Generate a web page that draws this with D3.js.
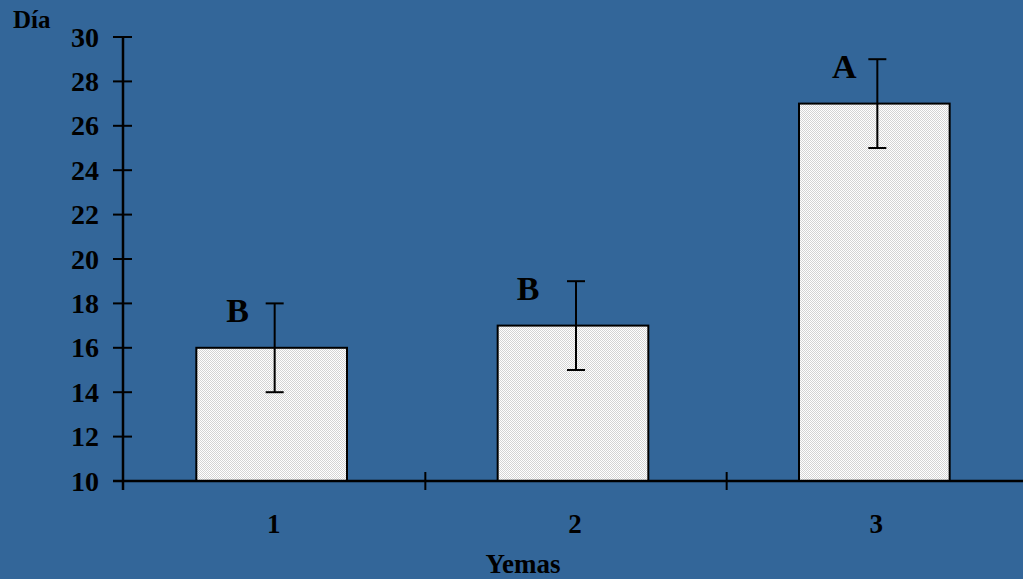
<!DOCTYPE html>
<html>
<head>
<meta charset="utf-8">
<style>
  body { margin: 0; background: #336699; }
  svg { display: block; }
  text { font-family: "Liberation Serif", "Times New Roman", serif; font-weight: bold; fill: #000; }
</style>
</head>
<body>
<svg width="1023" height="579"></svg>
<script src="https://d3js.org/d3.v7.min.js"></script>
<script>

var categories = ["1", "2", "3"];
var means = [16, 17, 27];
var errors = [2, 2, 2];
var letters = ["B", "B", "A"];
var yTicks = [10, 12, 14, 16, 18, 20, 22, 24, 26, 28, 30];

// horizontal nudge of each letter, left of its error bar
var letterDx = [-37, -48, -33];

var svg = d3.select("svg"),
    margin = {top: 37, right: -4, bottom: 98, left: 123},
    width = 1023 - margin.left - margin.right,
    height = 579 - margin.top - margin.bottom,
    g = svg.append("g").attr("transform", "translate(" + margin.left + "," + margin.top + ")");

svg.insert("rect", ":first-child")
    .attr("width", 1023).attr("height", 579).attr("fill", "#336699");

// checker fill for the bars
var defs = svg.append("defs");
var pat = defs.append("pattern")
    .attr("id", "dots")
    .attr("patternUnits", "userSpaceOnUse")
    .attr("width", 2).attr("height", 2);
pat.append("rect").attr("width", 2).attr("height", 2).attr("fill", "#ffffff");
pat.append("rect").attr("width", 1).attr("height", 1).attr("fill", "#d4d4d4");
pat.append("rect").attr("x", 1).attr("y", 1).attr("width", 1).attr("height", 1).attr("fill", "#d4d4d4");

var x = d3.scaleBand()
    .domain(categories)
    .range([0, width])
    .paddingInner(0.5)
    .paddingOuter(0.25);

var xb = d3.scaleBand().domain(categories).range([0, width]);

var y = d3.scaleLinear()
    .domain([10, 30])
    .range([height, 0]);

// bars
g.selectAll(".bar")
    .data(means)
  .enter().append("rect")
    .attr("class", "bar")
    .attr("x", function(d, i) { return x(categories[i]) - 2; })
    .attr("y", function(d) { return y(d); })
    .attr("width", x.bandwidth())
    .attr("height", function(d) { return height - y(d); })
    .attr("fill", "url(#dots)")
    .attr("stroke", "#000")
    .attr("stroke-width", 2);

// error bars
var eb = g.selectAll(".err")
    .data(means)
  .enter().append("g")
    .attr("class", "err")
    .attr("transform", function(d, i) { return "translate(" + (xb(categories[i]) + xb.bandwidth() / 2 + 1) + ",0)"; });

eb.append("line")
    .attr("y1", function(d, i) { return y(d - errors[i]); })
    .attr("y2", function(d, i) { return y(d + errors[i]); })
    .attr("stroke", "#000").attr("stroke-width", 2);
eb.append("line")
    .attr("x1", -9).attr("x2", 9)
    .attr("y1", function(d, i) { return y(d + errors[i]); })
    .attr("y2", function(d, i) { return y(d + errors[i]); })
    .attr("stroke", "#000").attr("stroke-width", 2);
eb.append("line")
    .attr("x1", -9).attr("x2", 9)
    .attr("y1", function(d, i) { return y(d - errors[i]); })
    .attr("y2", function(d, i) { return y(d - errors[i]); })
    .attr("stroke", "#000").attr("stroke-width", 2);

eb.append("text")
    .attr("x", function(d, i) { return letterDx[i]; })
    .attr("y", function(d, i) { return y(d + errors[i]) + 19; })
    .attr("text-anchor", "middle")
    .style("font-size", "34px")
    .text(function(d, i) { return letters[i]; });

// x axis
var gx = g.append("g").attr("transform", "translate(0," + height + ")");
gx.append("line")
    .attr("x1", -10).attr("x2", width)
    .attr("stroke", "#000").attr("stroke-width", 2.5);
gx.selectAll(".xt")
    .data(categories.slice(1))
  .enter().append("line")
    .attr("x1", function(d) { return xb(d) + 1; })
    .attr("x2", function(d) { return xb(d) + 1; })
    .attr("y1", -9).attr("y2", 9)
    .attr("stroke", "#000").attr("stroke-width", 2);
gx.selectAll(".xl")
    .data(categories)
  .enter().append("text")
    .attr("x", function(d) { return xb(d) + xb.bandwidth() / 2; })
    .attr("y", 52)
    .attr("text-anchor", "middle")
    .style("font-size", "27px")
    .text(function(d) { return d; });

// y axis
var gy = g.append("g");
gy.append("line")
    .attr("y1", 0).attr("y2", height + 9)
    .attr("stroke", "#000").attr("stroke-width", 2.5);
gy.selectAll(".yt")
    .data(yTicks)
  .enter().append("line")
    .attr("x1", -10).attr("x2", 9)
    .attr("y1", function(d) { return y(d); })
    .attr("y2", function(d) { return y(d); })
    .attr("stroke", "#000").attr("stroke-width", 2);
gy.selectAll(".yl")
    .data(yTicks)
  .enter().append("text")
    .attr("x", -24)
    .attr("y", function(d) { return y(d); })
    .attr("dy", "0.34em")
    .attr("text-anchor", "end")
    .style("font-size", "28px")
    .text(function(d) { return d; });

svg.append("text")
    .attr("x", 13).attr("y", 28)
    .style("font-size", "25px")
    .text("Día");

svg.append("text")
    .attr("x", 523).attr("y", 573)
    .attr("text-anchor", "middle")
    .style("font-size", "27px")
    .text("Yemas");

</script>
</body>
</html>
